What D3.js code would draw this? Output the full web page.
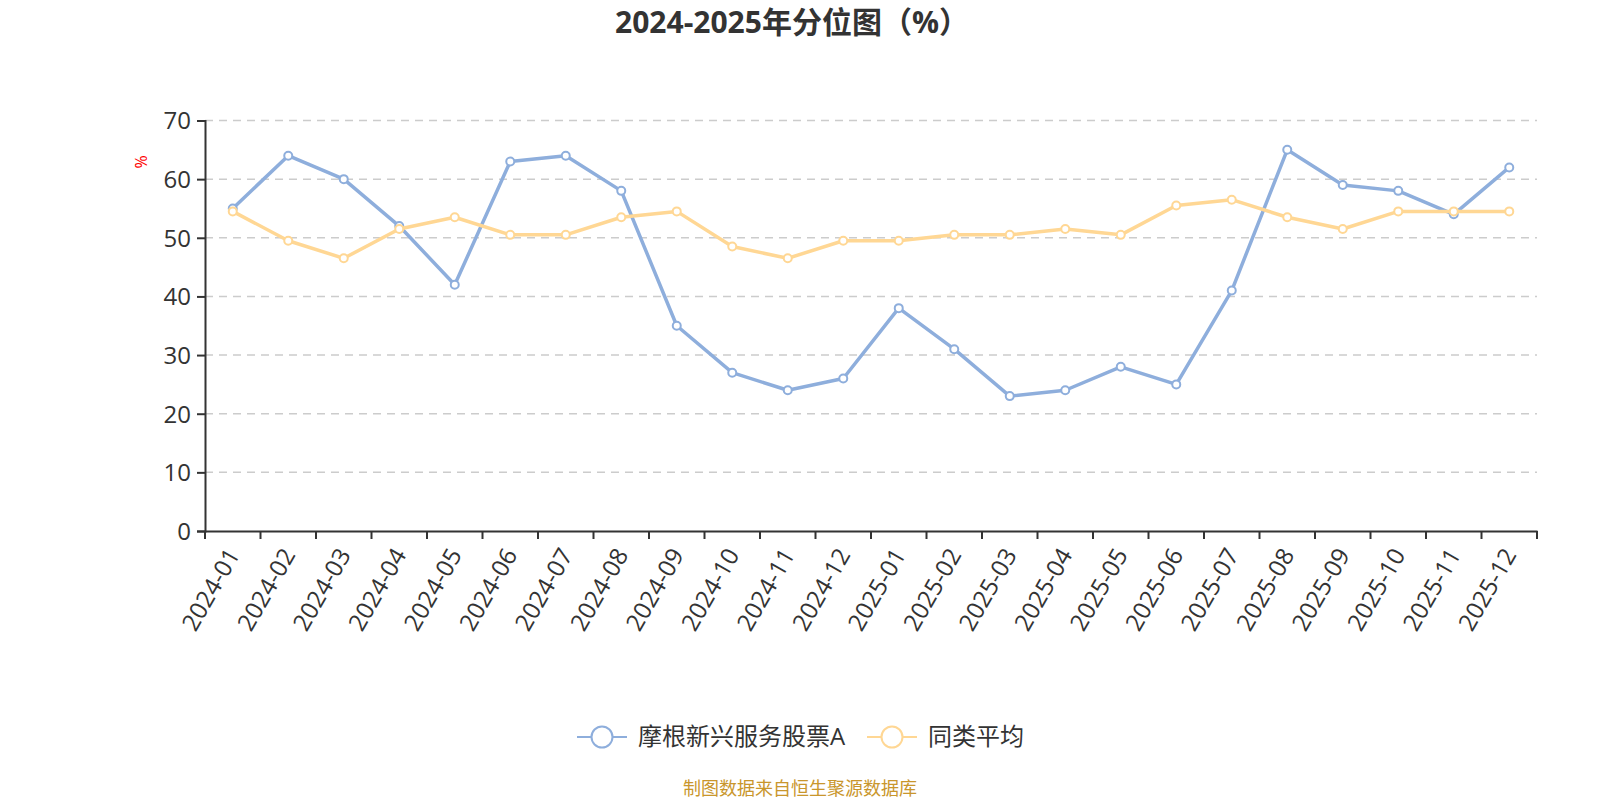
<!DOCTYPE html>
<html>
<head>
<meta charset="utf-8">
<script src="https://cdn.jsdelivr.net/npm/d3@7"></script>
<style>
	body{margin:0;background:#fff;}
	svg text{font-family:"Open Sans","Noto Sans CJK SC",sans-serif;}
</style>
</head>
<body>
<div id="idChart"></div>
<script>
var aMonths=["2024-01","2024-02","2024-03","2024-04","2024-05","2024-06","2024-07","2024-08","2024-09","2024-10","2024-11","2024-12",
	"2025-01","2025-02","2025-03","2025-04","2025-05","2025-06","2025-07","2025-08","2025-09","2025-10","2025-11","2025-12"];
var aFund=[55,64,60,52,42,63,64,58,35,27,24,26,38,31,23,24,28,25,41,65,59,58,54,62];
var aPeer=[54.5,49.5,46.5,51.5,53.5,50.5,50.5,53.5,54.5,48.5,46.5,49.5,49.5,50.5,50.5,51.5,50.5,55.5,56.5,53.5,51.5,54.5,54.5,54.5];
var aYTicks=[0,10,20,30,40,50,60,70];
var aSeriesNames=["摩根新兴服务股票A","同类平均"];

var iWidth=1600;
var iHeight=800;
var mapColor=["#8eaedc","#ffd794"];

var mySvg=d3.select("#idChart").append("svg")
	.attr("width",iWidth)
	.attr("height",iHeight);

var xScale=d3.scaleBand().domain(aMonths).range([205,1537]);
var yScale=d3.scaleLinear().domain([0,70]).range([531,120.5]);

// title
mySvg.append("text")
	.attr("x",792).attr("y",33)
	.attr("text-anchor","middle")
	.attr("fill","#333")
	.style("font-size","30px").style("font-weight","bold")
	.text("2024-2025年分位图（%）");

// grid
mySvg.append("g").selectAll("line")
	.data(aYTicks.slice(1))
	.enter().append("line")
		.attr("x1",205).attr("x2",1537)
		.attr("y1",function(d){return yScale(d);})
		.attr("y2",function(d){return yScale(d);})
		.attr("stroke","#cccccc").attr("stroke-width",1.5)
		.attr("stroke-dasharray","8,6");

// y axis
var yAxis=mySvg.append("g")
	.attr("transform","translate(205,0)")
	.call(d3.axisLeft(yScale).tickValues(aYTicks).tickSize(8).tickPadding(6));
yAxis.select(".domain").attr("stroke","#333").attr("stroke-width",2);
yAxis.selectAll(".tick line").attr("stroke","#333").attr("stroke-width",2);
yAxis.selectAll("text").attr("fill","#333").style("font-size","24px").attr("dy","0.35em");

// x axis
var xAxis=mySvg.append("g")
	.attr("transform","translate(0,531)")
	.call(d3.axisBottom(xScale).tickSize(0));
xAxis.select(".domain").attr("stroke","#333").attr("stroke-width",2);
xAxis.selectAll(".tick text")
	.attr("fill","#333").style("font-size","24px")
	.attr("text-anchor","end")
	.attr("dy","0.35em")
	.attr("transform","translate(-2,18) rotate(-60)");
var aBounds=aMonths.map(function(m){return xScale(m);}).concat([1537]);
xAxis.append("g").selectAll("line")
	.data(aBounds)
	.enter().append("line")
		.attr("x1",function(d){return d;}).attr("x2",function(d){return d;})
		.attr("y1",0).attr("y2",8)
		.attr("stroke","#333").attr("stroke-width",2);

// unit label
mySvg.append("text")
	.attr("transform","translate(141,162) rotate(-90)")
	.attr("text-anchor","middle").attr("dy","0.35em")
	.attr("fill","#ff0000").style("font-size","16px")
	.text("%");

// series
var fLine=d3.line()
	.x(function(d,i){return xScale(aMonths[i])+xScale.bandwidth()/2;})
	.y(function(d){return yScale(d);});

[aFund,aPeer].forEach(function(aData,iSeries){
	var myGroup=mySvg.append("g");
	myGroup.append("path")
		.datum(aData)
		.attr("d",fLine)
		.attr("fill","none")
		.attr("stroke",mapColor[iSeries])
		.attr("stroke-width",3.5)
		.attr("stroke-linejoin","round");
	myGroup.selectAll("circle")
		.data(aData)
		.enter().append("circle")
			.attr("cx",function(d,i){return xScale(aMonths[i])+xScale.bandwidth()/2;})
			.attr("cy",function(d){return yScale(d);})
			.attr("r",4)
			.attr("fill","#fff")
			.attr("stroke",mapColor[iSeries])
			.attr("stroke-width",2);
});

// legend
var aLegendX=[577,867];
aSeriesNames.forEach(function(sName,i){
	var myItem=mySvg.append("g").attr("transform","translate("+aLegendX[i]+",737)");
	myItem.append("line")
		.attr("x1",0).attr("x2",50).attr("y1",0).attr("y2",0)
		.attr("stroke",mapColor[i]).attr("stroke-width",2);
	myItem.append("circle")
		.attr("cx",25).attr("cy",0).attr("r",10.5)
		.attr("fill","#fff").attr("stroke",mapColor[i]).attr("stroke-width",2);
	myItem.append("text")
		.attr("x",61).attr("y",0).attr("dy","0.35em")
		.attr("fill","#333").style("font-size","24px")
		.text(sName);
});

// source
mySvg.append("text")
	.attr("x",800).attr("y",789).attr("dy","0.35em")
	.attr("text-anchor","middle")
	.attr("fill","#c9962c").style("font-size","18px")
	.text("制图数据来自恒生聚源数据库");
</script>
</body>
</html>
